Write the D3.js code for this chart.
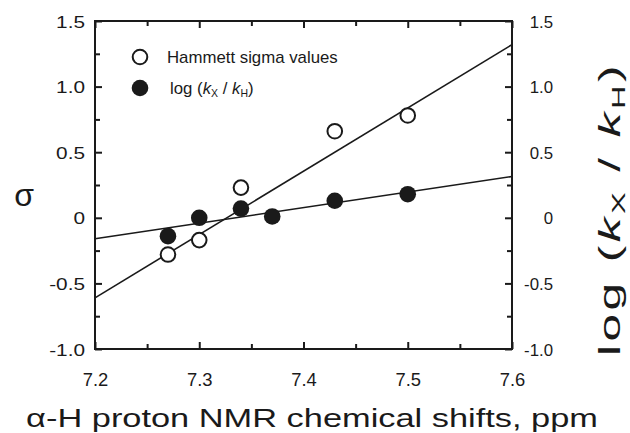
<!DOCTYPE html>
<html>
<head>
<meta charset="utf-8">
<script src="https://cdn.jsdelivr.net/npm/d3@7"></script>
<style>
  body { margin: 0; background: #fff; }
  svg { display: block; font-family: "Liberation Sans", Arial, sans-serif; }
</style>
</head>
<body>
<svg id="chart" width="630" height="433"></svg>
<script>
// ticks
const xMajor = [7.2, 7.3, 7.4, 7.5, 7.6];
const xMinor = [7.25, 7.35, 7.45, 7.55];
const xTickLabels = ["7.2", "7.3", "7.4", "7.5", "7.6"];
const yMajor = [-1.0, -0.5, 0, 0.5, 1.0, 1.5];
const yMinor = [-0.75, -0.25, 0.25, 0.75, 1.25];
const yTickLabels = ["-1.0", "-0.5", "0", "0.5", "1.0", "1.5"];

// Hammett sigma values (open circles)
const shiftSigma = [7.27, 7.30, 7.34, 7.43, 7.50];
const sigmaValues = [-0.28, -0.17, 0.23, 0.66, 0.78];
// log (kX / kH) (filled circles)
const shiftLog = [7.27, 7.30, 7.34, 7.37, 7.43, 7.50];
const logValues = [-0.14, 0.0, 0.07, 0.01, 0.13, 0.18];

// fitted lines, end points
const sigmaFit = [[7.2, -0.61], [7.6, 1.32]];
const logFit = [[7.2, -0.16], [7.6, 0.315]];

const svg = d3.select("#chart");
const PLOT = { left: 95, right: 512, top: 21, bottom: 349 };

const x = d3.scaleLinear().domain([7.2, 7.6]).range([PLOT.left, PLOT.right]);
const y = d3.scaleLinear().domain([-1.0, 1.5]).range([PLOT.bottom, PLOT.top]);

// stretch text horizontally around its anchor
function stretch(sel, s) {
  sel.each(function () {
    let t = d3.select(this);
    let tx = +t.attr("x") || 0, ty = +t.attr("y") || 0;
    t.attr("x", 0).attr("y", 0)
      .attr("transform", `translate(${tx},${ty}) scale(${s},1)`);
  });
}

function styleAxis(g) {
  g.select(".domain").remove();
  g.selectAll(".tick line").attr("stroke", "#1a1a1a").attr("stroke-width", 2);
  g.selectAll(".tick text").attr("fill", "#1a1a1a");
}

// left axis
let gLeft = svg.append("g").attr("transform", `translate(${PLOT.left},0)`)
  .call(d3.axisLeft(y).tickValues(yMajor).tickSize(-7).tickPadding(10)
    .tickFormat((d, i) => yTickLabels[i]));
svg.append("g").attr("transform", `translate(${PLOT.left},0)`)
  .call(d3.axisLeft(y).tickValues(yMinor).tickSize(-5).tickFormat(""))
  .call(styleAxis);
styleAxis(gLeft);
gLeft.selectAll(".tick text").attr("font-size", 16).attr("dy", null)
  .attr("y", 6).call(stretch, 1.3);

// right axis
let gRight = svg.append("g").attr("transform", `translate(${PLOT.right},0)`)
  .call(d3.axisRight(y).tickValues(yMajor).tickSize(-7)
    .tickFormat((d, i) => yTickLabels[i]));
svg.append("g").attr("transform", `translate(${PLOT.right},0)`)
  .call(d3.axisRight(y).tickValues(yMinor).tickSize(-5).tickFormat(""))
  .call(styleAxis);
styleAxis(gRight);
gRight.selectAll(".tick text").attr("font-size", 16).attr("dy", null)
  .attr("text-anchor", "end").attr("x", 41).attr("y", 6).call(stretch, 1.05);

// bottom axis
let gBottom = svg.append("g").attr("transform", `translate(0,${PLOT.bottom})`)
  .call(d3.axisBottom(x).tickValues(xMajor).tickSize(-7)
    .tickFormat((d, i) => xTickLabels[i]));
svg.append("g").attr("transform", `translate(0,${PLOT.bottom})`)
  .call(d3.axisBottom(x).tickValues(xMinor).tickSize(-5).tickFormat(""))
  .call(styleAxis);
styleAxis(gBottom);
gBottom.selectAll(".tick text").attr("font-size", 17.5).attr("dy", null)
  .attr("y", 37).call(stretch, 1.05);

// top axis (ticks only)
svg.append("g").attr("transform", `translate(0,${PLOT.top})`)
  .call(d3.axisTop(x).tickValues(xMajor).tickSize(-7).tickFormat(""))
  .call(styleAxis);
svg.append("g").attr("transform", `translate(0,${PLOT.top})`)
  .call(d3.axisTop(x).tickValues(xMinor).tickSize(-5).tickFormat(""))
  .call(styleAxis);

// frame
svg.append("rect")
  .attr("x", PLOT.left).attr("y", PLOT.top)
  .attr("width", PLOT.right - PLOT.left).attr("height", PLOT.bottom - PLOT.top)
  .attr("fill", "none").attr("stroke", "#1a1a1a").attr("stroke-width", 2);

// fitted lines
let line = d3.line().x(d => x(d[0])).y(d => y(d[1]));
[sigmaFit, logFit].forEach(fit => {
  svg.append("path").attr("d", line(fit))
    .attr("fill", "none").attr("stroke", "#1a1a1a").attr("stroke-width", 1.6);
});

// points
const R = 8.3;
svg.append("g").selectAll("circle")
  .data(shiftSigma.map((s, i) => [s, sigmaValues[i]]))
  .join("circle")
  .attr("cx", d => x(d[0])).attr("cy", d => y(d[1])).attr("r", R - 1)
  .attr("fill", "#fff").attr("stroke", "#1a1a1a").attr("stroke-width", 2);
svg.append("g").selectAll("circle")
  .data(shiftLog.map((s, i) => [s, logValues[i]]))
  .join("circle")
  .attr("cx", d => x(d[0])).attr("cy", d => y(d[1])).attr("r", R)
  .attr("fill", "#1a1a1a");

// legend
let legend = svg.append("g");
legend.append("circle").attr("cx", 140).attr("cy", 57).attr("r", R - 1)
  .attr("fill", "#fff").attr("stroke", "#1a1a1a").attr("stroke-width", 2);
legend.append("circle").attr("cx", 140).attr("cy", 88).attr("r", R)
  .attr("fill", "#1a1a1a");
legend.append("text").attr("x", 167).attr("y", 63).attr("font-size", 16)
  .attr("fill", "#1a1a1a").text("Hammett sigma values").call(stretch, 1.05);
let legLog = legend.append("text").attr("x", 170).attr("y", 94)
  .attr("font-size", 16).attr("fill", "#1a1a1a");
legLog.append("tspan").text("log (");
legLog.append("tspan").attr("font-style", "italic").text("k");
legLog.append("tspan").attr("font-size", 10).attr("dy", 3).text("X");
legLog.append("tspan").attr("dy", -3).text(" / ");
legLog.append("tspan").attr("font-style", "italic").text("k");
legLog.append("tspan").attr("font-size", 10).attr("dy", 3).text("H");
legLog.append("tspan").attr("dy", -3).text(")");
legLog.call(stretch, 1.05);

// axis titles
svg.append("text").attr("x", 24).attr("y", 206).attr("font-size", 32)
  .attr("text-anchor", "middle").attr("fill", "#1a1a1a").text("σ");

let xTitle = svg.append("text").attr("x", 312).attr("y", 427).attr("font-size", 26)
  .attr("text-anchor", "middle").attr("fill", "#1a1a1a")
  .text("α-H proton NMR chemical shifts, ppm");
let xw = xTitle.node().getBBox().width;
xTitle.call(stretch, 572 / xw);

let yTitle = svg.append("text").attr("text-anchor", "middle")
  .attr("font-size", 29).attr("letter-spacing", 2).attr("fill", "#1a1a1a");
yTitle.append("tspan").text("log (");
yTitle.append("tspan").attr("font-style", "italic").text("k");
yTitle.append("tspan").attr("font-size", 19).attr("dy", 5).text("X");
yTitle.append("tspan").attr("dy", -5).text(" / ");
yTitle.append("tspan").attr("font-style", "italic").text("k");
yTitle.append("tspan").attr("font-size", 19).attr("dy", 5).text("H");
yTitle.append("tspan").attr("dy", -5).text(")");
let yw = yTitle.node().getBBox().width;
yTitle.attr("transform", `translate(620,209) rotate(-90) scale(${294 / yw},1)`);
</script>
</body>
</html>
